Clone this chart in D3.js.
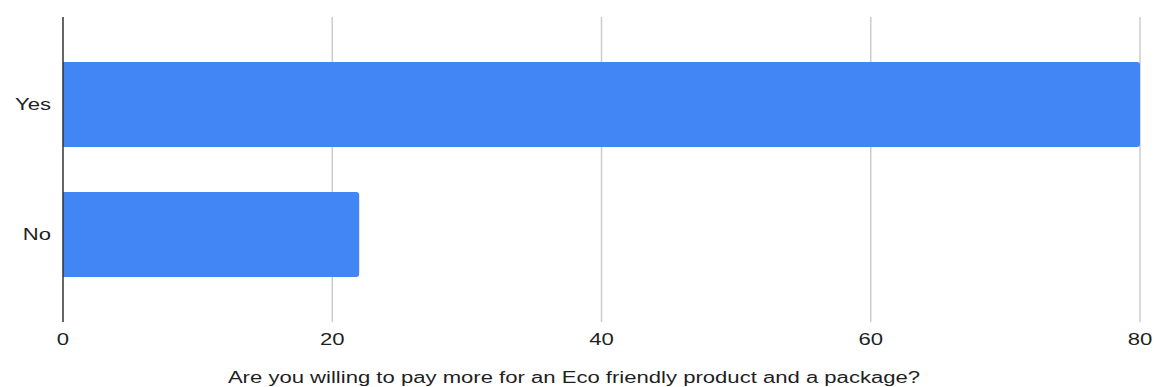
<!DOCTYPE html>
<html><head><meta charset="utf-8">
<script src="https://cdn.jsdelivr.net/npm/d3@7"></script>
<style>html,body{margin:0;padding:0;background:#fff;overflow:hidden}text{font-family:"Liberation Sans",Arial,sans-serif;fill:#1f1f1f}</style>
</head><body>
<svg id="c" width="1154" height="387"></svg>
<script>
const categories = ["Yes", "No"];
const values = [80, 22];
const xTicks = [0, 20, 40, 60, 80];
const axisTitle = "Are you willing to pay more for an Eco friendly product and a package?";

const svg = d3.select("#c");
const W = 1154, H = 387;
const m = {left: 63, right: 14, top: 17, bottom: 65};
const x = d3.scaleLinear().domain([0, 80]).range([m.left, W - m.right]);
const y = d3.scaleBand().domain(categories).range([m.top, H - m.bottom]).paddingInner(0.346).paddingOuter(0.346);
const stretch = 1.38;

// gridlines
svg.append("g").selectAll("line").data(xTicks.filter(d => d !== 0)).join("line")
  .attr("x1", d => x(d)).attr("x2", d => x(d))
  .attr("y1", m.top).attr("y2", H - m.bottom)
  .attr("stroke", "#cccccc").attr("stroke-width", 1.5);

// bars with rounded right corners
const r = 3;
svg.append("g").selectAll("path").data(categories).join("path")
  .attr("d", (c, i) => {
    const x0 = x(0), x1 = x(values[i]), y0 = y(c), h = y.bandwidth();
    return `M${x0},${y0}H${x1 - r}Q${x1},${y0} ${x1},${y0 + r}V${y0 + h - r}Q${x1},${y0 + h} ${x1 - r},${y0 + h}H${x0}Z`;
  })
  .attr("fill", "#4285f4");

// zero line
svg.append("line").attr("x1", x(0)).attr("x2", x(0)).attr("y1", m.top).attr("y2", H - m.bottom)
  .attr("stroke", "#333").attr("stroke-width", 1.5);

const texts = [];
// tick labels
svg.append("g").selectAll("text").data(xTicks).join("text")
  .attr("x", d => x(d)).attr("y", 344.5).attr("text-anchor", "middle")
  .attr("font-size", "16px").text(d => d)
  .each(function(){ texts.push(this); });

// category labels
svg.append("g").selectAll("text").data(categories).join("text")
  .attr("x", 51).attr("y", c => y(c) + y.bandwidth() / 2).attr("dy", "0.35em")
  .attr("text-anchor", "end").attr("font-size", "16px").text(c => c)
  .each(function(){ texts.push(this); });

// axis title
svg.append("text").attr("x", 574).attr("y", 382.5).attr("text-anchor", "middle")
  .attr("font-size", "16px").text(axisTitle)
  .each(function(){ texts.push(this); });

texts.forEach(t => {
  const w = t.getComputedTextLength();
  t.setAttribute("textLength", (w * stretch).toFixed(1));
  t.setAttribute("lengthAdjust", "spacingAndGlyphs");
});
</script>
</body></html>
